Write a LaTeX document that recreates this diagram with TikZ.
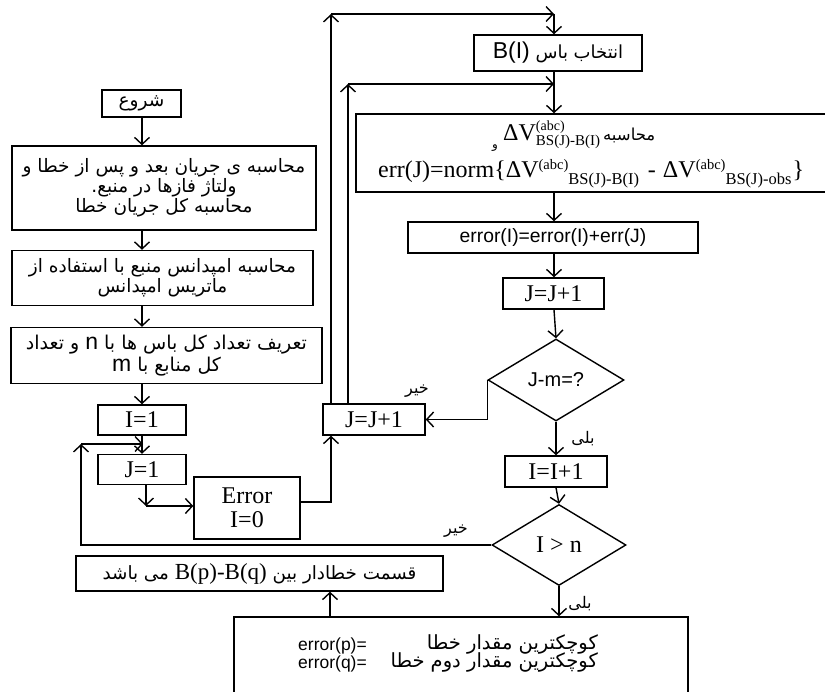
\documentclass[tikz,border=0pt]{standalone}
\usepackage{fontspec}
\setmainfont{Liberation Serif}
\newfontfamily\arl{Liberation Sans}
\newfontfamily\fa[Script=Arabic]{DejaVu Sans}
\usetikzlibrary{arrows.meta,shapes.geometric}
\TeXXeTstate=1
\newcommand\myup[2]{\raisebox{8pt}{\fontsize{#1}{#1}\selectfont #2}}
\newcommand\mydn[2]{\raisebox{-7pt}{\fontsize{#1}{#1}\selectfont #2}}
\newcommand\R[1]{\beginR #1\endR}
\begin{document}
\begin{tikzpicture}[x=1pt,y=-1pt,
  box/.style={draw, line width=1.4pt, inner sep=0pt, align=center},
  arr/.style={line width=1.4pt, -{Straight Barb[length=7pt,width=15pt,line width=1.4pt]}},
  fatxt/.style={font=\fa\fontsize{18.5}{20}\selectfont},
  tm/.style={font=\fontsize{24}{24}\selectfont},
  sf/.style={font=\arl\fontsize{20}{20}\selectfont},
  lbl/.style={inner sep=0pt, font=\fa\fontsize{16}{16}\selectfont}]
\useasboundingbox (0,0) rectangle (825,692);

% left column
\node[box, fatxt, minimum width=79pt, minimum height=27pt] (start) at (141.5,103.5) {\R{شروع}};
\node[box, fatxt, minimum width=304pt, minimum height=84pt] (b2) at (164,188)
  {\R{محاسبه ی جریان بعد و پس از خطا و}\\\R{ولتاژ فازها در منبع.}\\\R{محاسبه کل جریان خطا}};
\node[box, fatxt, minimum width=301pt, minimum height=55pt] (b3) at (162.5,278)
  {\R{محاسبه امپدانس منبع با استفاده از}\\\R{ماتریس امپدانس}};
\node[box, font=\fa\fontsize{19}{22}\selectfont, minimum width=311pt, minimum height=56pt] (b4) at (166.5,355.5)
  {\R{تعریف تعداد  کل باس ها با {\arl\fontsize{23}{19}\selectfont n} و تعداد}\\\R{کل منابع با {\arl\fontsize{23}{19}\selectfont m}}};
\node[box, tm, minimum width=88pt, minimum height=30pt] (i1) at (142,420) {I=1};
\node[box, tm, minimum width=88pt, minimum height=30pt] (j1) at (142,469.5) {J=1};
\node[box, tm, minimum width=106pt, minimum height=62pt] (err) at (247,508) {Error\\I=0};
\node[box, tm, minimum width=102pt, minimum height=31pt] (jl) at (374,419.5) {J=J+1};

% right column
\node[box, minimum width=168pt, minimum height=36pt] (bi) at (558,53)
  {\fa\fontsize{18}{19}\selectfont\R{انتخاب باس {\arl\fontsize{23}{22}\selectfont\beginL B(I)\endL}}};
\node[box, minimum width=480pt, minimum height=78pt] (big) at (596,153) {};
\node[inner sep=0pt, anchor=base west, font=\fontsize{24}{24}\selectfont] (bl1) at (503,141)
  {ΔV\rlap{\raisebox{10pt}{\fontsize{14}{14}\selectfont (abc)}}\raisebox{-5pt}{\fontsize{15}{15}\selectfont BS(J)-B(I)}\hspace{3pt}{\fa\fontsize{16.5}{16}\selectfont\R{محاسبه}}};
\node[inner sep=0pt, anchor=base, font=\fa\fontsize{12}{12}\selectfont] (bl0) at (495,149) {\R{و}};
\node[inner sep=0pt, anchor=base west, font=\fontsize{24}{24}\selectfont] (bl2) at (378,178)
  {err(J)=norm\{ΔV\myup{14.5}{(abc)}\mydn{16.5}{BS(J)-B(I)}\hspace{9pt}-\hspace{7pt}ΔV\myup{14.5}{(abc)}\mydn{16.5}{BS(J)-obs}\hspace{1pt}\}};
\node[box, font=\arl\fontsize{19.3}{20}\selectfont, minimum width=290pt, minimum height=31pt] (eI) at (553,237.5) {error(I)=error(I)+err(J)};
\node[box, tm, minimum width=101pt, minimum height=31pt] (jr) at (553.5,293.5) {J=J+1};
\node[draw, line width=1.4pt, shape=diamond, minimum width=136pt, minimum height=82pt, inner sep=0pt] (d1) at (556,380) {};
\node[sf, inner sep=0pt] (d1t) at (556,380) {J-m=?};
\node[box, tm, minimum width=102pt, minimum height=31pt] (ii) at (556,471.5) {I=I+1};
\node[draw, line width=1.4pt, shape=diamond, minimum width=134pt, minimum height=81pt, inner sep=0pt] (d2) at (559,545) {};
\node[tm, inner sep=0pt] (d2t) at (559,545) {I > n};

% result boxes
\node[box, minimum width=367pt, minimum height=35pt] (res) at (259.5,573.5)
  {\fa\fontsize{18.3}{18}\selectfont\R{قسمت خطادار بین {\rmfamily\fontsize{23}{21}\selectfont\beginL B(p)-B(q)\endL} می باشد}};
\node[box, minimum width=454pt, minimum height=123pt] (bot) at (461,678.5) {};
\node[inner sep=0pt, anchor=base east, font=\arl\fontsize{17.5}{17}\selectfont] (p1) at (367,650) {error(p)=};
\node[inner sep=0pt, anchor=base east, font=\arl\fontsize{17.5}{17}\selectfont] (q1) at (367,668) {error(q)=};
\node[inner sep=0pt, anchor=base east, font=\fa\fontsize{19.5}{17}\selectfont] (p2) at (598,649) {\R{کوچکترین مقدار خطا}};
\node[inner sep=0pt, anchor=base east, font=\fa\fontsize{19.5}{17}\selectfont] (q2) at (598,667) {\R{کوچکترین مقدار دوم خطا}};

% helper coordinates
\coordinate (jc) at (146,506);
\coordinate (ca) at (331,14);
\coordinate (cb) at (554,14);
\coordinate (cc) at (348,84);
\coordinate (cd) at (554,84);
\coordinate (ce) at (81,444);
\coordinate (cf) at (143,444);
\coordinate (cg) at (330,600);

% left column arrows
\draw[arr] (start.south -| i1) -- (b2.north -| i1);
\draw[arr] (b2.south -| i1) -- (b3.north -| i1);
\draw[arr] (b3.south -| i1) -- (b4.north -| i1);
\draw[arr] (b4.south -| i1) -- (i1.north);
\draw[arr] (i1.south) -- (j1.north);
\draw[arr] (j1.south -| jc) -- (jc);
\draw[arr] (jc) -- (jc -| err.west);
\draw[arr] ([yshift=6pt]err.east) -| ([xshift=-43pt]jl.south);
% loops to top
\draw[arr] ([xshift=-43pt]jl.north) -- (ca);
\draw[arr] (ca) -- (cb);
\draw[arr] (cb) -- (cb |- bi.north);
\draw[arr] ([xshift=-26pt]jl.north) -- (cc);
\draw[arr] (cc) -- (cd);
\draw[arr] (cd |- bi.south) -- (cd |- big.north);
% right column
\draw[arr] (cd |- big.south) -- (cd |- eI.north);
\draw[arr] (cd |- eI.south) -- (cd |- jr.north);
\draw[arr] (cd |- jr.south) -- (d1.north);
\draw[arr] (d1.west) -- (d1.west |- jl.east) -- (jl.east);
\node[lbl] (no1) at (417,391) {\R{خیر}};
\draw[arr] (d1.south) -- (ii.north);
\node[lbl] (yes1) at (583,439) {\R{بلی}};
\draw[arr] (ii.south) -- (d2.north);
\draw[arr] (d2.west) -| (ce);
\draw[arr] (ce) -- (cf);
\node[lbl] (no2) at (456,531) {\R{خیر}};
\draw[arr] (d2.south) -- (d2.south |- bot.north);
\node[lbl] (yes2) at (580,604) {\R{بلی}};
\draw[arr] (bot.north -| cg) -- (res.south -| cg);
\end{tikzpicture}
\end{document}
